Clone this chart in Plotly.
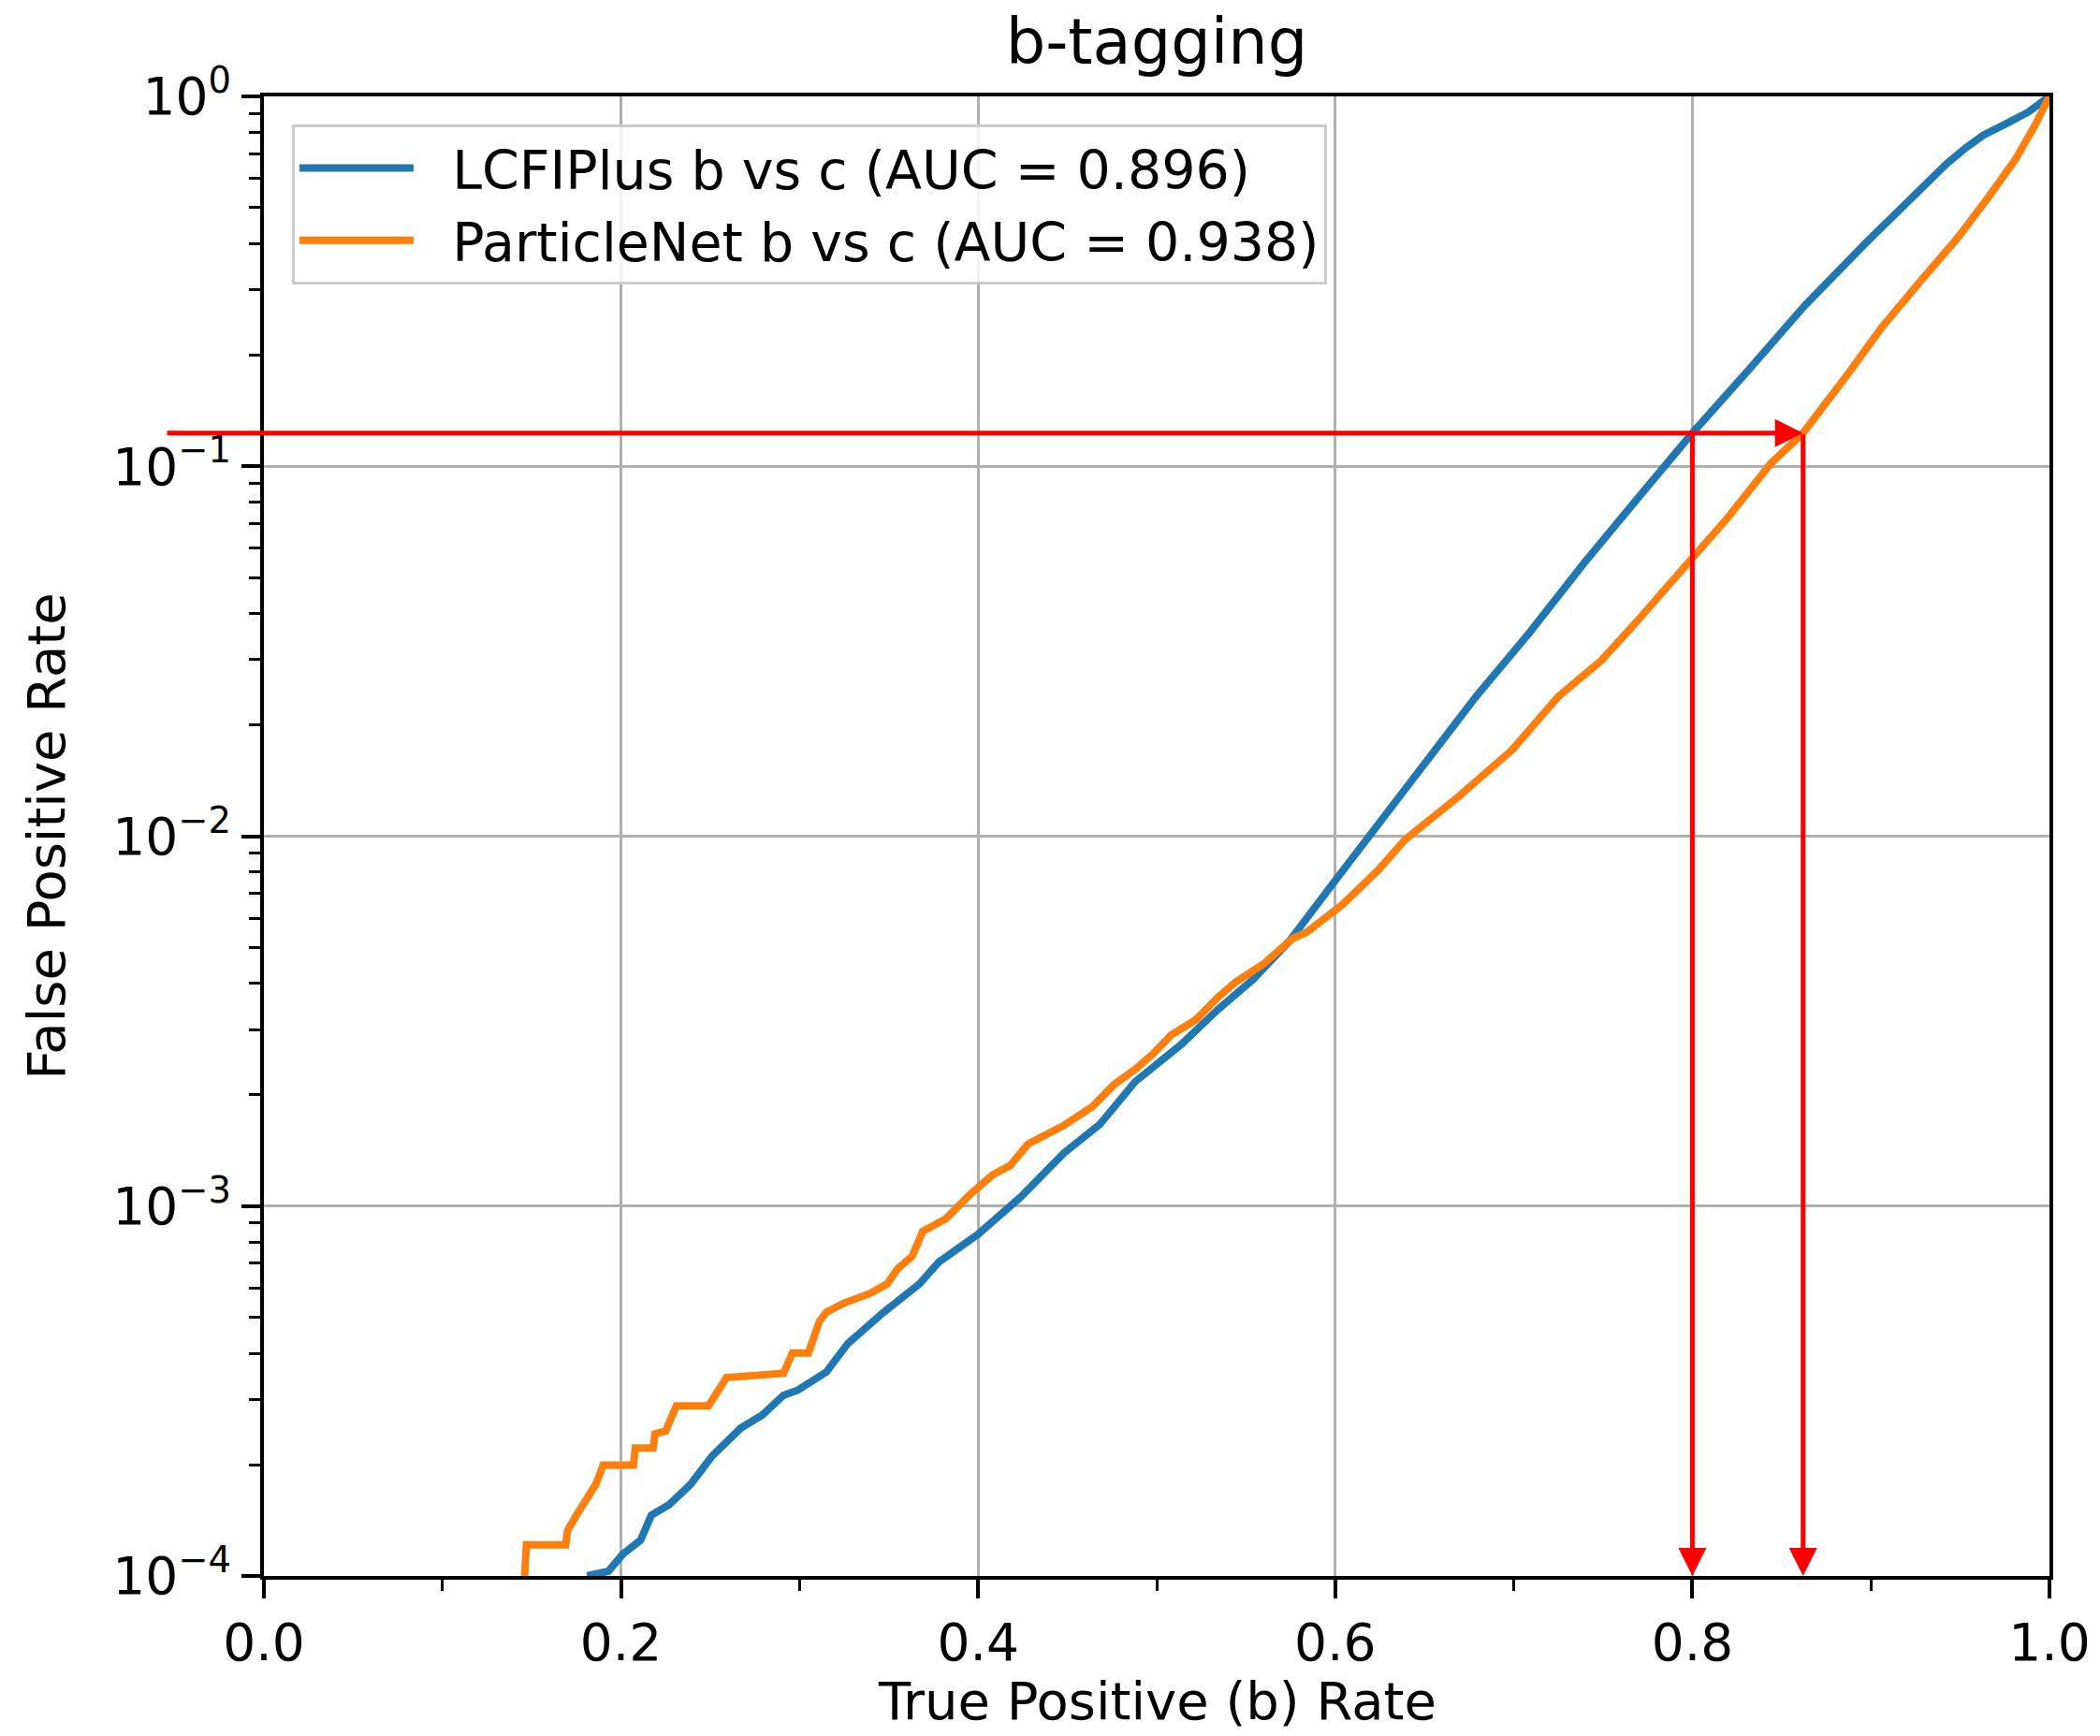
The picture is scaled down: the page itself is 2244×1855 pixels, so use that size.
import math
import plotly.graph_objects as go

# ---------------- data ----------------
series_names = ["LCFIPlus b vs c (AUC = 0.896)", "ParticleNet b vs c (AUC = 0.938)"]
x_title = "True Positive (b) Rate"
y_title = "False Positive Rate"
chart_title = "b-tagging"

tpr_lcfi = [0.181, 0.193, 0.201, 0.211, 0.217, 0.227, 0.239, 0.251, 0.267, 0.279,
            0.291, 0.299, 0.315, 0.327, 0.347, 0.367, 0.378, 0.391, 0.400, 0.424,
            0.448, 0.468, 0.488, 0.514, 0.534, 0.554, 0.574, 0.600, 0.619, 0.636,
            0.649, 0.679, 0.709, 0.739, 0.769, 0.800, 0.831, 0.863, 0.897, 0.915,
            0.930, 0.942, 0.953, 0.963, 0.975, 0.988, 1.000]
fpr_lcfi = [1.0e-4, 1.03e-4, 1.146e-4, 1.25e-4, 1.46e-4, 1.56e-4, 1.77e-4, 2.11e-4, 2.51e-4, 2.72e-4,
            3.08e-4, 3.18e-4, 3.56e-4, 4.25e-4, 5.16e-4, 6.15e-4, 7.06e-4, 7.76e-4, 8.39e-4, 1.06e-3,
            1.39e-3, 1.66e-3, 2.17e-3, 2.74e-3, 3.39e-3, 4.10e-3, 5.18e-3, 7.59e-3, 1.0e-2, 1.26e-2,
            1.53e-2, 2.39e-2, 3.56e-2, 5.45e-2, 8.15e-2, 0.123, 0.181, 0.272, 0.401, 0.490,
            0.575, 0.655, 0.725, 0.785, 0.840, 0.906, 1.0]

tpr_pnet = [0.146, 0.147, 0.169, 0.170, 0.175, 0.181, 0.186, 0.190, 0.207, 0.208,
            0.218, 0.219, 0.225, 0.231, 0.249, 0.259, 0.291, 0.296, 0.305, 0.311,
            0.315, 0.325, 0.339, 0.349, 0.355, 0.363, 0.369, 0.382, 0.396, 0.408,
            0.418, 0.428, 0.448, 0.464, 0.476, 0.488, 0.498, 0.508, 0.522, 0.534,
            0.544, 0.560, 0.576, 0.584, 0.604, 0.624, 0.639, 0.669, 0.699, 0.725,
            0.749, 0.769, 0.800, 0.820, 0.844, 0.862, 0.887, 0.906, 0.928, 0.949,
            0.966, 0.981, 0.992, 0.999, 1.000]
fpr_pnet = [1.0e-4, 1.213e-4, 1.213e-4, 1.324e-4, 1.459e-4, 1.641e-4, 1.774e-4, 1.995e-4, 1.995e-4, 2.218e-4,
            2.218e-4, 2.421e-4, 2.466e-4, 2.884e-4, 2.884e-4, 3.436e-4, 3.532e-4, 4.009e-4, 4.009e-4, 4.864e-4,
            5.164e-4, 5.47e-4, 5.794e-4, 6.152e-4, 6.776e-4, 7.311e-4, 8.551e-4, 9.247e-4, 1.081e-3, 1.213e-3,
            1.288e-3, 1.472e-3, 1.652e-3, 1.858e-3, 2.128e-3, 2.344e-3, 2.582e-3, 2.897e-3, 3.192e-3, 3.656e-3,
            4.027e-3, 4.519e-3, 5.284e-3, 5.495e-3, 6.531e-3, 8.091e-3, 9.772e-3, 1.279e-2, 1.710e-2, 2.388e-2,
            2.985e-2, 3.811e-2, 5.702e-2, 7.278e-2, 0.1019, 0.1230, 0.1774, 0.2371, 0.3177, 0.4169,
            0.5358, 0.6761, 0.8375, 0.9594, 1.0]

x_tick_vals = [0.0, 0.2, 0.4, 0.6, 0.8, 1.0]
x_tick_labels = ["0.0", "0.2", "0.4", "0.6", "0.8", "1.0"]
x_minor_vals = [0.1, 0.3, 0.5, 0.7, 0.9]
y_tick_vals = [1e-4, 1e-3, 1e-2, 1e-1, 1e0]
y_tick_labels = ["10<sup>\u22124</sup>", "10<sup>\u22123</sup>", "10<sup>\u22122</sup>",
                 "10<sup>\u22121</sup>", "10<sup>0</sup>"]
y_minor_vals = [m * 10.0 ** e for e in range(-4, 0) for m in range(2, 10)]

# working point marked by the red arrows
op_fpr = 0.123
op_tpr_lcfi = 0.800
op_tpr_pnet = 0.862
arrow_tail_x = -0.055

BLUE = "#1f77b4"
ORANGE = "#ff7f0e"
FONT = "DejaVu Sans"
GAP = "\u00a0\u00a0"  # small visual gap between legend line sample and its text

fig = go.Figure()
fig.add_trace(go.Scatter(x=tpr_lcfi, y=fpr_lcfi, mode="lines", name=GAP + series_names[0],
                         line=dict(color=BLUE, width=8)))
fig.add_trace(go.Scatter(x=tpr_pnet, y=fpr_pnet, mode="lines", name=GAP + series_names[1],
                         line=dict(color=ORANGE, width=8)))

ly = math.log10(op_fpr)
ybot = math.log10(y_tick_vals[0])
arrow_common = dict(text="", showarrow=True, arrowhead=2, arrowsize=1.2, arrowwidth=5,
                    arrowcolor="#ff0000", axref="x", ayref="y", xref="x", yref="y", standoff=0)
annotations = [
    dict(x=op_tpr_pnet, y=ly, ax=arrow_tail_x, ay=ly, **arrow_common),
    dict(x=op_tpr_lcfi, y=ybot, ax=op_tpr_lcfi, ay=ly, **arrow_common),
    dict(x=op_tpr_pnet, y=ybot, ax=op_tpr_pnet, ay=ly, **arrow_common),
    # x-axis title (placed as annotation so it can sit close to the bottom edge like the reference)
    dict(text=x_title, x=0.5, xref="paper", xanchor="center",
         y=-(1817 - 1684) / 1581, yref="paper", yanchor="middle", showarrow=False,
         font=dict(family=FONT, size=56, color="black")),
]

fig.update_layout(
    width=2244, height=1855,
    margin=dict(l=282, r=54, t=103, b=171, autoexpand=False),
    paper_bgcolor="white", plot_bgcolor="white",
    font=dict(family=FONT, size=56, color="black"),
    title=dict(text=chart_title, x=(282 + 2190) / 2 / 2244, xanchor="center",
               y=1 - 45 / 1855, yanchor="middle", yref="container",
               font=dict(family=FONT, size=67, color="black")),
    showlegend=True,
    legend=dict(x=0.0157, y=0.981, xanchor="left", yanchor="top",
                bgcolor="rgba(255,255,255,0.85)", bordercolor="#cccccc", borderwidth=3,
                font=dict(family=FONT, size=57, color="black"), itemwidth=122,
                tracegroupgap=0),
    annotations=annotations,
)

fig.update_xaxes(
    range=[0, 1], tickvals=x_tick_vals, ticktext=x_tick_labels, automargin=False,
    showline=True, linecolor="black", linewidth=4, mirror=True,
    ticks="outside", ticklen=20, tickwidth=4, tickcolor="black",
    showgrid=True, gridcolor="#b0b0b0", gridwidth=3, zeroline=False,
    tickfont=dict(family=FONT, size=55, color="black"),
    minor=dict(tickvals=x_minor_vals, ticks="outside", ticklen=12, tickwidth=3,
               tickcolor="black", showgrid=False),
)
fig.update_yaxes(
    type="log", range=[-4, 0], tickvals=y_tick_vals, ticktext=y_tick_labels, automargin=True,
    showline=True, linecolor="black", linewidth=4, mirror=True,
    ticks="outside", ticklen=20, tickwidth=4, tickcolor="black",
    showgrid=True, gridcolor="#b0b0b0", gridwidth=3, zeroline=False,
    tickfont=dict(family=FONT, size=55, color="black"),
    minor=dict(tickvals=y_minor_vals, ticks="outside", ticklen=12, tickwidth=3,
               tickcolor="black", showgrid=False),
    title=dict(text=y_title, font=dict(family=FONT, size=56, color="black"),
               standoff=34),
)

fig.write_html("out.html")
